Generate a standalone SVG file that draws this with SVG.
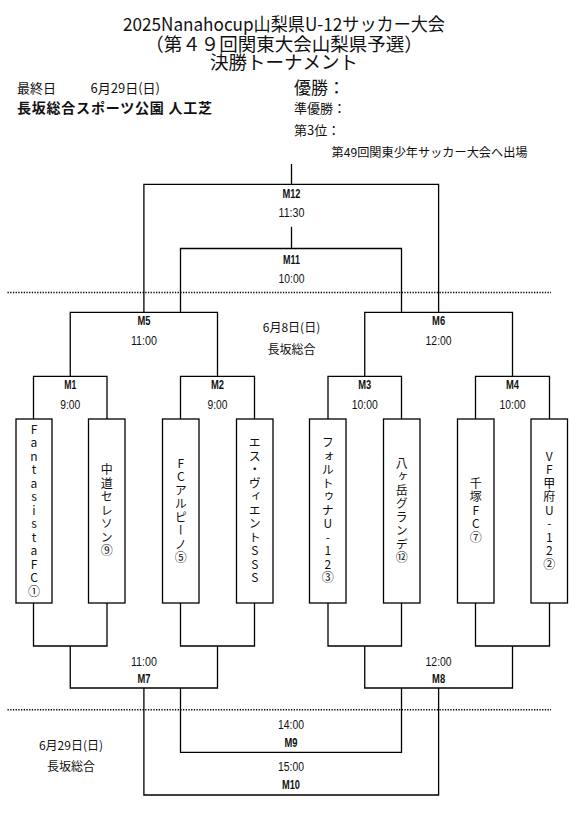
<svg xmlns="http://www.w3.org/2000/svg" width="582" height="815" viewBox="0 0 582 815">
<style>
.ln{fill:none;stroke:#000;stroke-width:1.3}
.dot{fill:none;stroke:#000;stroke-width:1.6;stroke-dasharray:1.3 1.4}
.box{fill:#fff;stroke:#000;stroke-width:1.3}
.j{font-family:"Noto Sans CJK JP","Noto Sans",sans-serif;fill:#111}
.c{text-anchor:middle}
.t{font-family:"Liberation Sans",Arial,sans-serif;font-size:12.5px;text-anchor:middle;fill:#111}
.m{font-weight:bold}
.team{font-family:"Noto Sans CJK JP",sans-serif;font-size:12px;fill:#111;text-anchor:middle;writing-mode:vertical-rl;text-orientation:upright;letter-spacing:1.5px}
</style>
<rect width="582" height="815" fill="#fff"/>
<g id="header">
<text class="j c" x="284" y="31" font-size="18" textLength="322" lengthAdjust="spacingAndGlyphs">2025Nanahocup山梨県U-12サッカー大会</text>
<text class="j c" x="284" y="51" font-size="18.5">（第４９回関東大会山梨県予選）</text>
<text class="j c" x="284" y="69" font-size="18.5">決勝トーナメント</text>
<text class="j" x="17" y="93.2" font-size="13">最終日</text>
<text class="j" x="90.5" y="93.2" font-size="13">6月29日(日)</text>
<text class="j" x="17" y="113.3" font-size="14" font-weight="bold" textLength="195" lengthAdjust="spacing">長坂総合スポーツ公園 人工芝</text>
<text class="j" x="294" y="94" font-size="17">優勝：</text>
<text class="j" x="294" y="113.3" font-size="13">準優勝：</text>
<text class="j" x="294" y="135" font-size="13">第3位：</text>
<text class="j" x="331.5" y="157.2" font-size="12.3" textLength="196" lengthAdjust="spacingAndGlyphs">第49回関東少年サッカー大会へ出場</text>
</g>
<g id="connectors">
<path class="ln" d="M291.5 164V184.3M143.9 312.3V184.3H438.6V312.3M291.5 226.7V248.5M180.5 312.3V248.5H401.5V312.3"/>
<path class="ln" d="M70.25 376.3V312.3H217.5V376.3M364.75 376.3V312.3H512.5V376.3"/>
<path class="ln" d="M33.5 419V376.3H107V419M180.5 419V376.3H254.5V419M328 419V376.3H401.5V419M475.5 419V376.3H549.5V419"/>
<path class="ln" d="M33.5 603V646H107V603M180.5 603V646H254.5V603M328 603V646H401.5V603M475.5 603V646H549.5V603"/>
<path class="ln" d="M70.25 646V688H217.5V646M364.75 646V688H512.5V646"/>
<path class="ln" d="M180.5 688V752.3H401.5V688M143.9 688V795H438.6V688"/>
<path class="dot" d="M7.5 292.5H551M7.5 709.8H551"/>
</g>
<g id="M12"><text class="t m" x="291.5" y="197.5" textLength="18" lengthAdjust="spacingAndGlyphs">M12</text><text class="t" x="291.5" y="217" textLength="26" lengthAdjust="spacingAndGlyphs">11:30</text></g>
<g id="M11"><text class="t m" x="291.5" y="264" textLength="17" lengthAdjust="spacingAndGlyphs">M11</text><text class="t" x="291.5" y="282.5" textLength="26" lengthAdjust="spacingAndGlyphs">10:00</text></g>
<g id="M5"><text class="t m" x="143.9" y="324.5" textLength="13" lengthAdjust="spacingAndGlyphs">M5</text><text class="t" x="143.9" y="345" textLength="26" lengthAdjust="spacingAndGlyphs">11:00</text></g>
<g id="M6"><text class="t m" x="438.6" y="324.5" textLength="13" lengthAdjust="spacingAndGlyphs">M6</text><text class="t" x="438.6" y="345" textLength="26" lengthAdjust="spacingAndGlyphs">12:00</text></g>
<g id="day1"><text class="j c" x="291.5" y="331.9" font-size="12">6月8日(日)</text><text class="j c" x="291.5" y="353.5" font-size="12">長坂総合</text></g>
<g id="M1"><text class="t m" x="70.25" y="388.5" textLength="12" lengthAdjust="spacingAndGlyphs">M1</text><text class="t" x="70.25" y="409" textLength="20" lengthAdjust="spacingAndGlyphs">9:00</text></g>
<g id="M2"><text class="t m" x="217.5" y="388.5" textLength="13" lengthAdjust="spacingAndGlyphs">M2</text><text class="t" x="217.5" y="409" textLength="20" lengthAdjust="spacingAndGlyphs">9:00</text></g>
<g id="M3"><text class="t m" x="364.75" y="388.5" textLength="13" lengthAdjust="spacingAndGlyphs">M3</text><text class="t" x="364.75" y="409" textLength="26" lengthAdjust="spacingAndGlyphs">10:00</text></g>
<g id="M4"><text class="t m" x="512.5" y="388.5" textLength="13" lengthAdjust="spacingAndGlyphs">M4</text><text class="t" x="512.5" y="409" textLength="26" lengthAdjust="spacingAndGlyphs">10:00</text></g>
<g id="team1"><rect class="box" x="16" y="419" width="36" height="184"/><text class="team" x="34" y="511">FantasistaFC①</text></g>
<g id="team2"><rect class="box" x="88.5" y="419" width="36.5" height="184"/><text class="team" x="106.75" y="511">中道セレソン⑨</text></g>
<g id="team3"><rect class="box" x="162.5" y="419" width="36.5" height="184"/><text class="team" x="180.75" y="511">FCアルピーノ⑤</text></g>
<g id="team4"><rect class="box" x="236.5" y="419" width="36.5" height="184"/><text class="team" x="254.75" y="511">エス・ヴィエントSSS</text></g>
<g id="team5"><rect class="box" x="309.5" y="419" width="36.5" height="184"/><text class="team" x="327.75" y="511">フォルトゥナU-12③</text></g>
<g id="team6"><rect class="box" x="383.5" y="419" width="36.5" height="184"/><text class="team" x="401.75" y="511">八ヶ岳グランデ⑫</text></g>
<g id="team7"><rect class="box" x="457.5" y="419" width="36.5" height="184"/><text class="team" x="475.75" y="511">千塚FC⑦</text></g>
<g id="team8"><rect class="box" x="531" y="419" width="36.5" height="184"/><text class="team" x="549.25" y="511">VF甲府U-12②</text></g>
<g id="M7"><text class="t" x="143.9" y="665.5" textLength="26" lengthAdjust="spacingAndGlyphs">11:00</text><text class="t m" x="143.9" y="683" textLength="13" lengthAdjust="spacingAndGlyphs">M7</text></g>
<g id="M8"><text class="t" x="438.6" y="665.5" textLength="26" lengthAdjust="spacingAndGlyphs">12:00</text><text class="t m" x="438.6" y="683" textLength="13" lengthAdjust="spacingAndGlyphs">M8</text></g>
<g id="M9"><text class="t" x="291" y="728.5" textLength="26" lengthAdjust="spacingAndGlyphs">14:00</text><text class="t m" x="291" y="747" textLength="13" lengthAdjust="spacingAndGlyphs">M9</text></g>
<g id="M10"><text class="t" x="291" y="771" textLength="26" lengthAdjust="spacingAndGlyphs">15:00</text><text class="t m" x="291" y="789" textLength="18" lengthAdjust="spacingAndGlyphs">M10</text></g>
<g id="day2"><text class="j c" x="71" y="750.3" font-size="12">6月29日(日)</text><text class="j c" x="71" y="771.3" font-size="12">長坂総合</text></g>
</svg>
